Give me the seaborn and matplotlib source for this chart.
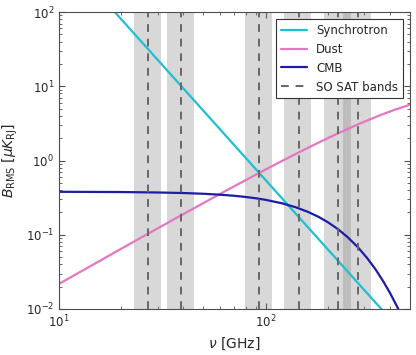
import numpy as np
import pandas as pd
import matplotlib
matplotlib.use("Agg")
import matplotlib.pyplot as plt
import seaborn as sns

# values (uK_RJ)
sync_freq = [10, 20, 40, 100, 200, 400, 500]
sync_rms = [686, 80.0, 9.34, 0.545, 0.0636, 0.00741, 0.00371]

dust_freq = [10, 15, 20, 27, 39, 60, 93, 120, 145, 180, 225, 280, 350, 420, 500]
dust_rms = [0.0218, 0.0412, 0.0648, 0.1034, 0.1827, 0.3531, 0.680, 0.985,
            1.289, 1.737, 2.332, 3.067, 3.970, 4.804, 5.646]

cmb_freq = [10, 20, 30, 40, 50, 60, 70, 80, 90, 100, 120, 140, 160, 180, 200,
            225, 250, 280, 310, 340, 370, 400, 435, 460]
cmb_rms = [0.379, 0.376, 0.371, 0.3647, 0.3564, 0.3465, 0.3354, 0.3229, 0.3095,
           0.2953, 0.2653, 0.2344, 0.2039, 0.1748, 0.1478, 0.1179, 0.0924,
           0.0677, 0.0486, 0.0344, 0.0239, 0.01647, 0.01051, 0.00756]

# SO SAT bands, centre and 30% fractional width
band_centres = [27, 39, 93, 145, 225, 280]
band_frac = 0.3

sns.set_style("ticks")
plt.rcParams['font.family'] = ['DejaVu Sans']
plt.rcParams['xtick.direction'] = 'in'
plt.rcParams['ytick.direction'] = 'in'
plt.rcParams['mathtext.fontset'] = 'dejavusans'

fig = plt.figure(figsize=(4.16, 3.55), dpi=100)
ax = fig.add_axes([59/416, 1-309/355, 351/416, 297/355])

for nu in band_centres:
    ax.axvspan(nu*(1-band_frac/2), nu*(1+band_frac/2), color='0.5', alpha=0.3, lw=0)

df_s = pd.DataFrame({'nu': sync_freq, 'B': sync_rms})
df_d = pd.DataFrame({'nu': dust_freq, 'B': dust_rms})
df_c = pd.DataFrame({'nu': cmb_freq, 'B': cmb_rms})
sns.lineplot(data=df_s, x='nu', y='B', ax=ax, color='#1fbfcf', lw=1.6, label='Synchrotron')
sns.lineplot(data=df_d, x='nu', y='B', ax=ax, color='#e377c2', lw=1.6, label='Dust')
sns.lineplot(data=df_c, x='nu', y='B', ax=ax, color='#1c1ca8', lw=1.6, label='CMB')
for i, nu in enumerate(band_centres):
    ax.axvline(nu, color='0.4', ls=(0, (4, 3.5)), lw=1.4,
               label='SO SAT bands' if i == 0 else None)

ax.set_xscale('log')
ax.set_yscale('log')
ax.set_xlim(10, 500)
ax.set_ylim(1e-2, 1e2)
ax.set_xlabel(r'$\nu$ [GHz]', fontsize=10)
ax.set_ylabel(r'$B_{\rm RMS}$ [$\mu K_{\rm RJ}$]', fontsize=10, labelpad=4)
ax.tick_params(which='both', top=True, right=True, labelsize=8.5, color='0.3')
ax.tick_params(which='major', length=4)
ax.tick_params(which='minor', length=2)
for s in ax.spines.values():
    s.set_color('0.3')

leg = ax.legend(loc='upper right', fontsize=8.5, fancybox=False, framealpha=1,
                edgecolor='0.2', borderaxespad=0.6, handlelength=2.2)
leg.get_frame().set_linewidth(0.8)

fig.savefig('out.png', dpi=100)
